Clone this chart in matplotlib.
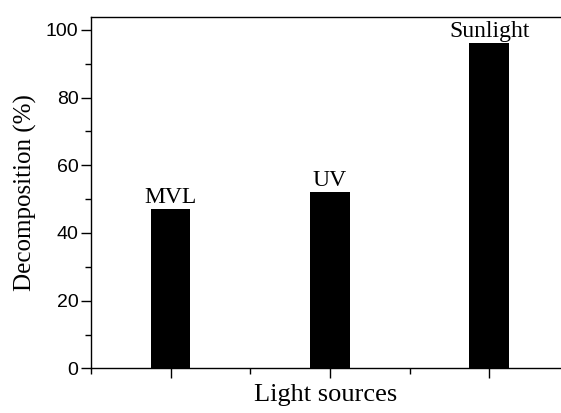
import matplotlib
matplotlib.use('Agg')
import matplotlib.pyplot as plt
from matplotlib.ticker import MultipleLocator

sources = ['MVL', 'UV', 'Sunlight']
decomposition = [47.1, 52.1, 96.1]
positions = [1, 2, 3]

fig = plt.figure(figsize=(5.61, 4.13), dpi=100)
ax = fig.add_axes([0.162, 0.108, 0.838, 0.850])

ax.bar(positions, decomposition, width=0.25, color='black')
for x, v, name in zip(positions, decomposition, sources):
    ax.annotate(name, (x, v), xytext=(0, 1), textcoords='offset points',
                ha='center', va='bottom', fontsize=17, family='Liberation Serif')

ax.set_xlim(0.5, 3.45)
ax.set_ylim(0, 103.7)
ax.set_xticks(positions)
ax.set_xticklabels([])
ax.xaxis.set_minor_locator(MultipleLocator(0.5))
ax.yaxis.set_major_locator(MultipleLocator(20))
ax.yaxis.set_minor_locator(MultipleLocator(10))
ax.tick_params(axis='both', which='major', length=7, width=1, direction='out')
ax.tick_params(axis='both', which='minor', length=4, width=1, direction='out')
ax.tick_params(axis='y', labelsize=14, pad=2)
for lab in ax.get_yticklabels():
    lab.set_family('Liberation Sans')
ax.spines['right'].set_visible(False)
for s in ['left', 'top', 'bottom']:
    ax.spines[s].set_linewidth(1)

ax.set_xlabel('Light sources', fontsize=19, family='Liberation Serif', labelpad=1)
ax.set_ylabel('Decomposition (%)', fontsize=18, family='Liberation Serif', labelpad=6)

plt.savefig('out.png', dpi=100)
